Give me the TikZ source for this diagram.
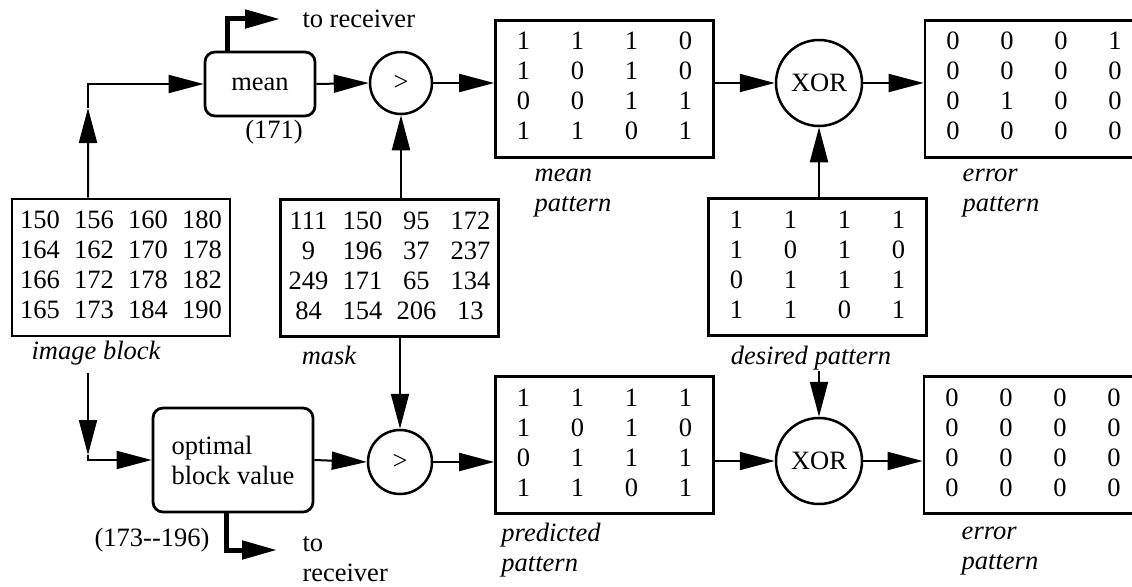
\documentclass[tikz,border=0pt]{standalone}
\usepackage{fontspec}
\setmainfont{Liberation Serif}
\usepackage{array}
\usetikzlibrary{positioning,arrows.meta}
\newcolumntype{C}{>{\centering\arraybackslash}p{21.6pt}}
\setlength{\tabcolsep}{0pt}

\begin{document}
\fontsize{10.6}{12}\selectfont
\begin{tikzpicture}[
                x=0.4pt,y=-0.4pt,
                arr/.style={line width=0.8pt,-{Triangle[length=14pt,width=7.2pt]}},
                thkarr/.style={line width=2pt,-{Triangle[length=14pt,width=7.2pt]}},
                pat/.style={draw,line width=1.1pt,minimum width=87.2pt,minimum height=54.8pt,inner sep=0pt},
                rbox/.style={draw,line width=1.1pt,rounded corners=4pt,align=left},
                cmp/.style={draw,circle,line width=1pt,inner sep=0pt,minimum size=#1},
                lbl/.style={font=\itshape,align=left,inner sep=0pt}
            ]
                \path[use as bounding box,clip] (0,0) rectangle (1132,586);
                % blocks
                \node (img) [pat] at (121,267.5) {\begin{tabular}{CCCC}
                    150 & 156 & 160 & 180\\ 164 & 162 & 170 & 178\\ 166 & 172 & 178 & 182\\ 165 & 173 & 184 & 190\end{tabular}};
                \node (mask) [pat] at (389.5,268) {\begin{tabular}{CCCC}
                    111 & 150 & 95 & 172\\ 9 & 196 & 37 & 237\\ 249 & 171 & 65 & 134\\ 84 & 154 & 206 & 13\end{tabular}};
                \node (meanpat) [pat] at (604.5,89) {\begin{tabular}{CCCC}
                    1 & 1 & 1 & 0\\ 1 & 0 & 1 & 0\\ 0 & 0 & 1 & 1\\ 1 & 1 & 0 & 1\end{tabular}};
                \node (err1) [pat] at (1034,89) {\begin{tabular}{CCCC}
                    0 & 0 & 0 & 1\\ 0 & 0 & 0 & 0\\ 0 & 1 & 0 & 0\\ 0 & 0 & 0 & 0\end{tabular}};
                \node (desired) [pat] at (817.5,267) {\begin{tabular}{CCCC}
                    1 & 1 & 1 & 1\\ 1 & 0 & 1 & 0\\ 0 & 1 & 1 & 1\\ 1 & 1 & 0 & 1\end{tabular}};
                \node (predpat) [pat] at (604.5,445) {\begin{tabular}{CCCC}
                    1 & 1 & 1 & 1\\ 1 & 0 & 1 & 0\\ 0 & 1 & 1 & 1\\ 1 & 1 & 0 & 1\end{tabular}};
                \node (err2) [pat] at (1033,445) {\begin{tabular}{CCCC}
                    0 & 0 & 0 & 0\\ 0 & 0 & 0 & 0\\ 0 & 0 & 0 & 0\\ 0 & 0 & 0 & 0\end{tabular}};
                \node (mean) [rbox,minimum width=44pt,minimum height=25.6pt] at (260,84) {mean};
                \node (opt) [rbox,minimum width=64pt,minimum height=41.6pt] at (233,460) {optimal\\block value};
                \node (gt1) [cmp=24.8pt] at (401,83) {>};
                \node (gt2) [cmp=25.6pt] at (400,462) {>};
                \node (xor1) [cmp=34.4pt] at (819,83) {XOR};
                \node (xor2) [cmp=34.4pt] at (819,461) {XOR};
                % labels
                \node (imglbl) [lbl,outer sep=3pt] at (96,353) {image block};
                \node (masklbl) [lbl] at (329,355) {mask};
                \node (meanlbl) [lbl] at (573,193) {mean\\pattern};
                \node (err1lbl) [lbl] at (1001,193) {error\\pattern};
                \node (deslbl) [lbl] at (811,358) {desired pattern};
                \node (predlbl) [lbl] at (551,550) {predicted\\pattern};
                \node (err2lbl) [lbl] at (1000,551) {error\\pattern};
                \node (v171) at (274,132) {(171)};
                \node (vrange) at (152,540) {(173-{}-196)};
                \coordinate (rx1) at (280,19);
                \coordinate (rx2) at (277,550);
                \node (rcv1) [right=8.8pt of rx1,inner sep=0pt] {to receiver};
                \node (rcv2) [anchor=west,align=left,inner sep=0pt] at (302,559) {to\\receiver};
                \coordinate (up) at (88,108);
                \coordinate (dn) at (88,455);
                % connectors
                \draw[arr] ([xshift=-13.2pt]img.north) -- (up);
                \draw[arr] (up) |- (mean.west);
                \draw[arr] (imglbl.south -| dn) -- (dn);
                \draw[arr] (dn) |- (opt.west);
                \draw[thkarr] ([xshift=-13.2pt]mean.north) |- (rx1);
                \draw[thkarr] ([xshift=-2.8pt]opt.south) |- (rx2);
                \draw[arr] (mean.east) -- (gt1.west);
                \draw[arr] (mask.north -| gt1) -- (gt1.south);
                \draw[arr] (mask.south -| gt2) -- (gt2.north);
                \draw[arr] (opt.east) -- (gt2.west);
                \draw[arr] (gt1.east) -- (gt1.east -| meanpat.west);
                \draw[arr] (gt2.east) -- (gt2.east -| predpat.west);
                \draw[arr] (meanpat.east |- xor1) -- (xor1.west);
                \draw[arr] (predpat.east |- xor2) -- (xor2.west);
                \draw[arr] (desired.north -| xor1) -- (xor1.south);
                \draw[arr] (deslbl.south -| xor2) -- (xor2.north);
                \draw[arr] (xor1.east) -- (xor1.east -| err1.west);
                \draw[arr] (xor2.east) -- (xor2.east -| err2.west);
            \end{tikzpicture}
\end{document}
